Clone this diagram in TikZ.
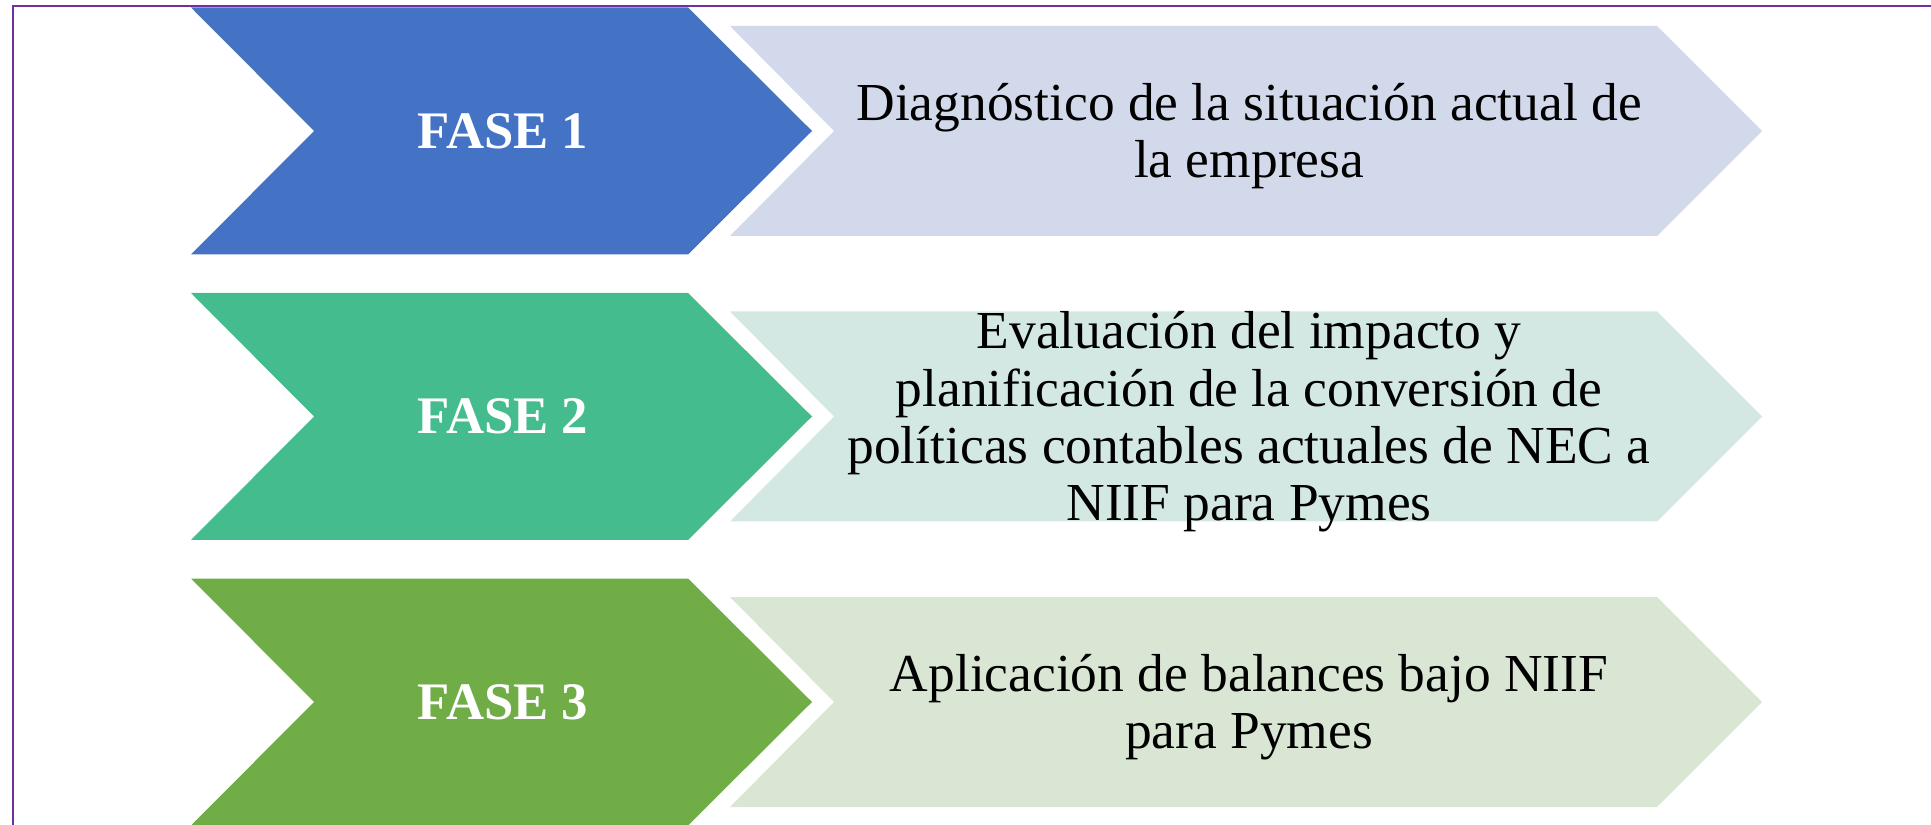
\documentclass[tikz,border=0pt]{standalone}
\usepackage{xcolor}
\usepackage{fontspec}
\setmainfont{Liberation Serif}
\usepackage{tikz}
\definecolor{marco}{HTML}{7030A0}
\definecolor{azul}{HTML}{4472C4}
\definecolor{verdeagua}{HTML}{44BC8D}
\definecolor{verde}{HTML}{70AD47}
\definecolor{azulclaro}{HTML}{D2D9EB}
\definecolor{verdeaguaclaro}{HTML}{D3E8E3}
\definecolor{verdeclaro}{HTML}{D9E6D3}

\begin{document}
\begin{tikzpicture}[x=0.01cm,y=-0.01cm]

			\tikzstyle{fasetext} = [text=white,font=\fontsize{15.0}{17}\selectfont\bfseries]
			\tikzstyle{desctext} = [text=black,align=center,font=\fontsize{15.2}{16.3}\selectfont]

			\useasboundingbox (0,0) rectangle (1931,825);

			% marco
			\draw[marco,line width=0.6pt] (13,900) -- (13,6) -- (1960,6);

			% fase 1
			\fill[azul] (191,7.5) -- (688,7.5) -- (812,131) -- (688,254.5) -- (191,254.5) -- (314,131) -- cycle;
			\fill[azulclaro] (730,26) -- (1657,26) -- (1762,131) -- (1657,236) -- (730,236) -- (834,131) -- cycle;
			\node[fasetext] (fase1) at (503,131) {FASE 1};
			\node[desctext] (desc1) at (1249,136) {Diagnóstico de la situación actual de\\la empresa};

			% fase 2
			\fill[verdeagua] (191,293) -- (688,293) -- (812,416.5) -- (688,540) -- (191,540) -- (314,416.5) -- cycle;
			\fill[verdeaguaclaro] (730,311.5) -- (1657,311.5) -- (1762,416.5) -- (1657,521.5) -- (730,521.5) -- (834,416.5) -- cycle;
			\node[fasetext] (fase2) at (503,416.5) {FASE 2};
			\node[desctext] (desc2) at (1249,422) {Evaluación del impacto y\\planificación de la conversión de\\políticas contables actuales de NEC a\\NIIF para Pymes};

			% fase 3
			\fill[verde] (191,578.5) -- (688,578.5) -- (812,702) -- (688,825.5) -- (191,825.5) -- (314,702) -- cycle;
			\fill[verdeclaro] (730,597) -- (1657,597) -- (1762,702) -- (1657,807) -- (730,807) -- (834,702) -- cycle;
			\node[fasetext] (fase3) at (503,702) {FASE 3};
			\node[desctext] (desc3) at (1249,707) {Aplicación de balances bajo NIIF\\para Pymes};
		\end{tikzpicture}
\end{document}
